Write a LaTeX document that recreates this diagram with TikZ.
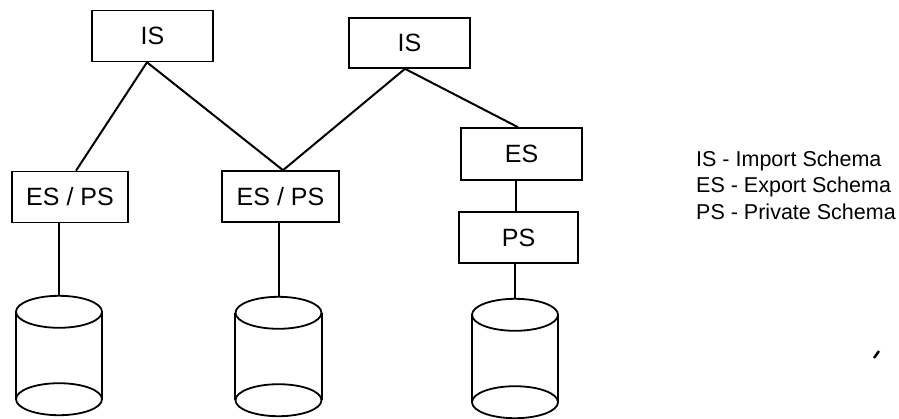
\documentclass[tikz,border=0pt]{standalone}
\usepackage{fontspec}
\setmainfont{Liberation Sans}
\usetikzlibrary{calc}
\tikzset{
  schemabox/.style={draw, line width=1.6pt, rectangle, inner sep=0pt,
    minimum height=51pt, font=\fontsize{25}{30}\selectfont},
  link/.style={line width=2pt},
  cylframe/.style={inner sep=0pt, minimum width=86pt, minimum height=120pt},
  cylline/.style={line width=1.8pt},
  legend/.style={anchor=base west, inner sep=0pt, font=\fontsize{21.5}{26}\selectfont},
}
\newcommand{\drawdb}[1]{%
  \draw[cylline] ($(#1.north)+(0,16)$) ellipse [x radius=43pt, y radius=16pt];
  \draw[cylline] ($(#1.south)+(0,-17)$) ellipse [x radius=43pt, y radius=16pt];
  \draw[cylline] ($(#1.north west)+(0,16)$) -- ($(#1.south west)+(0,-17)$);
  \draw[cylline] ($(#1.north east)+(0,16)$) -- ($(#1.south east)+(0,-17)$);
}
\begin{document}
\begin{tikzpicture}[x=1pt, y=-1pt]
  \useasboundingbox (0,0) rectangle (899,418);
  % schema boxes
  \node[schemabox, minimum width=121pt] (is1) at (152.5,36) {IS};
  \node[schemabox, minimum width=121pt, minimum height=50pt] (is2) at (409.5,43) {IS};
  \node[schemabox, minimum width=116pt] (esps1) at (70,197) {ES / PS};
  \node[schemabox, minimum width=117pt] (esps2) at (280.5,196.5) {ES / PS};
  \node[schemabox, minimum width=121pt, minimum height=52pt] (es) at (521.5,154) {ES};
  \node[schemabox, minimum width=119pt] (ps) at (518.5,237.5) {PS};
  % databases
  \node[cylframe] (db1) at (59,356) {};
  \node[cylframe] (db2) at (278.5,357) {};
  \node[cylframe] (db3) at (515,359) {};
  \drawdb{db1}
  \drawdb{db2}
  \drawdb{db3}
  % connectors
  \draw[link] ([xshift=-5.5pt]is1.south) -- ([xshift=6pt]esps1.north);
  \draw[link] ([xshift=-5.5pt]is1.south) -- ([xshift=2.5pt]esps2.north);
  \draw[link] ([xshift=-4.5pt]is2.south) -- ([xshift=2.5pt]esps2.north);
  \draw[link] ([xshift=-4.5pt]is2.south) -- ([xshift=-3.5pt]es.north);
  \draw[link] ([xshift=-5.5pt]es.south) -- ([xshift=-2.5pt]ps.north);
  \draw[link] (esps1.south -| db1.north) -- (db1.north);
  \draw[link] (esps2.south -| db2.north) -- (db2.north);
  \draw[link] (ps.south -| db3.north) -- (db3.north);
  % legend
  \node[legend] (l1) at (696,166) {IS - Import Schema};
  \node[legend] (l2) at (696,192.5) {ES - Export Schema};
  \node[legend] (l3) at (696,219) {PS - Private Schema};
  % stray mark
  \coordinate (m1) at (874,358);
  \coordinate (m2) at (879,351);
  \draw[line width=2.5pt] (m1) -- (m2);
\end{tikzpicture}
\end{document}
